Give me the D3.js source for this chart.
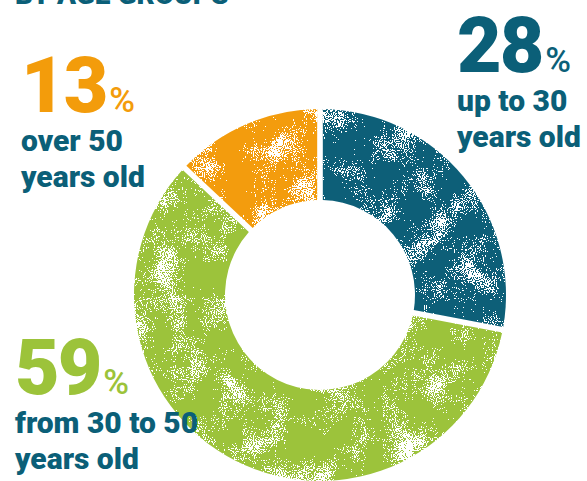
<!DOCTYPE html>
<html lang="en">
<head>
<meta charset="UTF-8">
<title>By age groups</title>
<script src="https://cdn.jsdelivr.net/npm/d3@7"></script>
<style>
  body { margin: 0; background: #fff; }
  svg text { font-family: Roboto, "Open Sans", sans-serif; font-weight: 700; }
</style>
</head>
<body>
<script>
// data
var groups = ["up to 30", "from 30 to 50", "over 50"];
var shares = [28, 59, 13];
var lineOne = ["up to 30", "from 30 to 50", "over 50"];
var lineTwo = ["years old", "years old", "years old"];
var colors = ["#0b5f78", "#9cc33a", "#f39c0b"];

var w = 587, h = 481;
var cx = 320, cy = 295;
var outerR = 186, innerR = 95;

var svg = d3.select("body").append("svg")
  .attr("width", w)
  .attr("height", h);

// speckled ink look: fine grain modulated by soft blotches
var defs = svg.append("defs");
var f = defs.append("filter").attr("id", "grain")
  .attr("x", "-5%").attr("y", "-5%").attr("width", "110%").attr("height", "110%");
f.append("feTurbulence")
  .attr("type", "fractalNoise").attr("baseFrequency", 0.9)
  .attr("numOctaves", 1).attr("seed", 3).attr("result", "fine");
f.append("feColorMatrix")
  .attr("in", "fine").attr("type", "matrix")
  .attr("values", "0 0 0 0 0  0 0 0 0 0  0 0 0 0 0  1 0 0 0 0")
  .attr("result", "fineA");
f.append("feTurbulence")
  .attr("type", "fractalNoise").attr("baseFrequency", 0.03)
  .attr("numOctaves", 3).attr("seed", 11).attr("result", "coarse");
f.append("feColorMatrix")
  .attr("in", "coarse").attr("type", "matrix")
  .attr("values", "0 0 0 0 0  0 0 0 0 0  0 0 0 0 0  1 0 0 0 0")
  .attr("result", "coarseA");
f.append("feComposite")
  .attr("in", "fineA").attr("in2", "coarseA")
  .attr("operator", "arithmetic")
  .attr("k1", 0).attr("k2", 1).attr("k3", 0.8).attr("k4", -0.25)
  .attr("result", "mix");
var ct = f.append("feComponentTransfer").attr("in", "mix").attr("result", "mask");
ct.append("feFuncA").attr("type", "discrete").attr("tableValues", "0 1");
f.append("feComposite")
  .attr("in", "SourceGraphic").attr("in2", "mask")
  .attr("operator", "in");

// title, mostly cut off by the top edge
svg.append("text")
  .attr("x", 15).attr("y", 4)
  .attr("fill", colors[0])
  .style("font-size", "28px")
  .style("font-weight", 900)
  .text("BY AGE GROUPS");

var pie = d3.pie().sort(null).value(function(d) { return d; });
var arc = d3.arc().innerRadius(innerR).outerRadius(outerR).padAngle(0.027);

svg.append("g")
  .attr("transform", "translate(" + cx + "," + cy + ")")
  .attr("filter", "url(#grain)")
  .selectAll("path")
  .data(pie(shares))
  .enter()
  .append("path")
  .attr("d", arc)
  .attr("fill", function(d, i) { return colors[i]; });

// labels: big number, small %, two lines of text
var labelPos = [
  { x: 457, y: 72 },
  { x: 15, y: 394 },
  { x: 21, y: 112 }
];

labelPos.forEach(function(p, i) {
  var g = svg.append("g").attr("transform", "translate(" + p.x + "," + p.y + ")");
  var big = g.append("text")
    .attr("fill", colors[i])
    .style("font-size", "77px")
    .style("font-weight", 900)
    .style("letter-spacing", "-2px")
    .text(shares[i]);
  var bw = big.node().getComputedTextLength();
  g.append("text")
    .attr("x", bw + 3)
    .attr("fill", colors[i])
    .style("font-size", "35px")
    .style("font-weight", 500)
    .text("%");
  g.append("text")
    .attr("y", 39)
    .attr("fill", colors[0])
    .style("font-size", "30px")
    .style("font-weight", 900)
    .text(lineOne[i]);
  g.append("text")
    .attr("y", 75)
    .attr("fill", colors[0])
    .style("font-size", "30px")
    .style("font-weight", 900)
    .text(lineTwo[i]);
});
</script>
</body>
</html>
